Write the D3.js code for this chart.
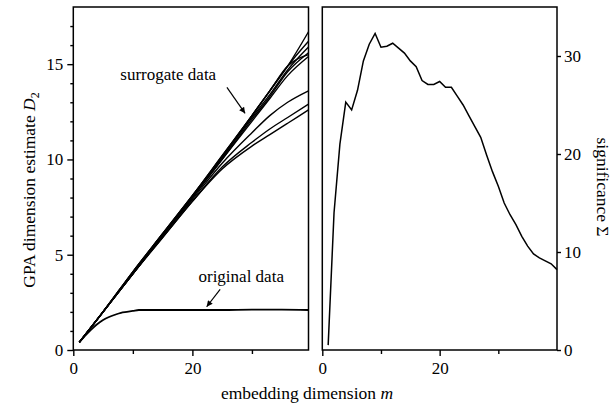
<!DOCTYPE html>
<html>
<head>
<meta charset="utf-8">
<script src="https://cdn.jsdelivr.net/npm/d3@7"></script>
<style>
  body { margin: 0; background: #fff; }
  #chart text { font-family: 'Liberation Serif', 'DejaVu Serif', serif !important; fill: #000; }
</style>
</head>
<body>
<svg id="chart" width="615" height="405"></svg>
<script>
// Left panel: GPA dimension estimate vs embedding dimension
const surM = [1, 5, 10, 15, 20, 25, 30, 33, 36, 39.5];
const sur1 = [0.4, 2.0, 4.1, 6.1, 8.1, 10.2, 12.3, 13.6, 14.9, 16.7];
const sur2 = [0.4, 2.0, 4.1, 6.1, 8.1, 10.2, 12.3, 13.6, 14.9, 16.2];
const sur3 = [0.4, 2.0, 4.1, 6.1, 8.1, 10.1, 12.2, 13.4, 14.7, 15.9];
const sur4 = [0.4, 2.0, 4.0, 6.0, 8.0, 10.0, 12.1, 13.3, 14.6, 15.6];
const sur5 = [0.4, 2.0, 4.0, 6.0, 8.0, 10.1, 12.3, 13.6, 14.9, 15.5];
const sur6 = [0.4, 2.0, 4.0, 6.0, 8.0, 10.0, 12.0, 13.2, 14.4, 15.4];
const sur7 = [0.4, 2.0, 4.0, 6.0, 7.9, 9.8, 11.4, 12.3, 13.0, 13.6];
const sur8 = [0.4, 2.0, 4.0, 5.9, 7.8, 9.6, 10.9, 11.6, 12.2, 12.9];
const sur9 = [0.4, 2.0, 4.0, 5.9, 7.8, 9.5, 10.7, 11.3, 11.9, 12.6];
const surrogates = [sur1, sur2, sur3, sur4, sur5, sur6, sur7, sur8, sur9];

const origM = [1, 2, 3, 4, 5, 6, 7, 8, 9, 10, 11, 12, 16, 20, 25, 30, 35, 39.5];
const origD = [0.4, 0.75, 1.07, 1.35, 1.57, 1.73, 1.85, 1.95, 2.0, 2.05, 2.1, 2.1, 2.1, 2.1, 2.1, 2.12, 2.12, 2.1];

// Right panel: significance vs embedding dimension
const sigM = [1, 2, 3, 4, 5, 6, 7, 8, 9, 10, 11, 12, 13, 14, 15, 16, 17, 18, 19, 20,
              21, 22, 23, 24, 25, 26, 27, 28, 29, 30, 31, 32, 33, 34, 35, 36, 37, 38, 39, 40];
const sigS = [0.5, 14, 21, 25.3, 24.5, 26.5, 29.5, 31.2, 32.3, 30.9, 31.0, 31.3, 30.8, 30.3, 29.5, 28.9, 27.5, 27.1, 27.1, 27.4,
              26.8, 26.8, 25.9, 25.0, 23.9, 22.8, 21.7, 19.9, 18.2, 16.7, 15.0, 13.8, 12.8, 11.6, 10.6, 9.8, 9.4, 9.1, 8.8, 8.2];

const leftMajor = [0, 5, 10, 15];
const leftMinor = [1, 2, 3, 4, 6, 7, 8, 9, 11, 12, 13, 14, 16, 17];
const rightMajor = [0, 10, 20, 30];
const xMajor = [0, 20];
const xMinor = [10, 30];

const FONT = "'Liberation Serif', 'DejaVu Serif', serif";

const svg = d3.select("#chart");

const plotTop = 7, plotBottom = 350;
const xL = d3.scaleLinear().domain([0, 39.5]).range([73.3, 308.5]);
const yL = d3.scaleLinear().domain([0, 18]).range([plotBottom, plotTop]);
const xR = d3.scaleLinear().domain([0, 40]).range([322.3, 557]);
const yR = d3.scaleLinear().domain([0, 35]).range([plotBottom, plotTop]);

svg.append("defs").append("marker")
  .attr("id", "arrow")
  .attr("viewBox", "0 0 10 10")
  .attr("refX", 10).attr("refY", 5)
  .attr("markerWidth", 7).attr("markerHeight", 6)
  .attr("markerUnits", "userSpaceOnUse")
  .attr("orient", "auto")
  .append("path")
  .attr("d", "M0,0 L10,5 L0,10 Z")
  .attr("fill", "#000");

function styleAxis(g) {
  g.attr("font-family", FONT).attr("font-size", 17);
  g.select(".domain").remove();
  g.selectAll("line").attr("stroke", "#000").attr("stroke-width", 1.4);
  g.selectAll("text").attr("font-size", 17).attr("font-family", FONT);
}

// frames
[[xL, yL], [xR, yR]].forEach(([x, y]) => {
  svg.append("rect")
    .attr("x", x.range()[0]).attr("y", plotTop)
    .attr("width", x.range()[1] - x.range()[0]).attr("height", plotBottom - plotTop)
    .attr("fill", "none").attr("stroke", "#000").attr("stroke-width", 1.5);
});

// left y axis
svg.append("g").attr("transform", `translate(${xL.range()[0]},0)`)
  .call(d3.axisLeft(yL).tickValues(leftMajor).tickSize(6).tickPadding(4))
  .call(styleAxis);
svg.append("g").attr("transform", `translate(${xL.range()[0]},0)`)
  .call(d3.axisLeft(yL).tickValues(leftMinor).tickSize(3).tickFormat(""))
  .call(styleAxis);

// right y axis
svg.append("g").attr("transform", `translate(${xR.range()[1]},0)`)
  .call(d3.axisRight(yR).tickValues(rightMajor).tickSize(4).tickPadding(3))
  .call(styleAxis);

// bottom axes
[xL, xR].forEach(x => {
  svg.append("g").attr("transform", `translate(0,${plotBottom})`)
    .call(d3.axisBottom(x).tickValues(xMajor).tickSize(6).tickPadding(6))
    .call(styleAxis);
  svg.append("g").attr("transform", `translate(0,${plotBottom})`)
    .call(d3.axisBottom(x).tickValues(xMinor).tickSize(4).tickFormat(""))
    .call(styleAxis);
});

// left panel lines
const lineL = d3.line()
  .x(d => xL(d[0]))
  .y(d => yL(d[1]))
  .curve(d3.curveMonotoneX);

surrogates.forEach(s => {
  svg.append("path")
    .datum(surM.map((m, i) => [m, s[i]]))
    .attr("d", lineL)
    .attr("fill", "none")
    .attr("stroke", "#000")
    .attr("stroke-width", 1.4);
});

svg.append("path")
  .datum(origM.map((m, i) => [m, origD[i]]))
  .attr("d", lineL)
  .attr("fill", "none")
  .attr("stroke", "#000")
  .attr("stroke-width", 1.8);

// right panel line
const lineR = d3.line()
  .x(d => xR(d[0]))
  .y(d => yR(d[1]));

svg.append("path")
  .datum(sigM.map((m, i) => [m, sigS[i]]))
  .attr("d", lineR)
  .attr("fill", "none")
  .attr("stroke", "#000")
  .attr("stroke-width", 1.5);

// annotations
svg.append("text")
  .attr("x", xL(15.95)).attr("y", yL(14.17))
  .attr("text-anchor", "middle").attr("font-size", 17).attr("font-family", FONT)
  .text("surrogate data");
svg.append("line")
  .attr("x1", xL(25.8)).attr("y1", yL(13.78))
  .attr("x2", xL(28.85)).attr("y2", yL(12.42))
  .attr("stroke", "#000").attr("stroke-width", 1.2)
  .attr("marker-end", "url(#arrow)");

svg.append("text")
  .attr("x", xL(28.2)).attr("y", yL(3.58))
  .attr("text-anchor", "middle").attr("font-size", 17).attr("font-family", FONT)
  .text("original data");
svg.append("line")
  .attr("x1", xL(24.66)).attr("y1", yL(3.18))
  .attr("x2", xL(22.4)).attr("y2", yL(2.27))
  .attr("stroke", "#000").attr("stroke-width", 1.2)
  .attr("marker-end", "url(#arrow)");

// axis titles
const yTitle = svg.append("text")
  .attr("transform", "translate(35,190) rotate(-90)")
  .attr("text-anchor", "middle").attr("font-size", 17.5).attr("font-family", FONT);
yTitle.append("tspan").text("GPA dimension estimate ");
yTitle.append("tspan").attr("font-style", "italic").text("D");
yTitle.append("tspan").attr("font-size", 12).attr("dy", 4).text("2");

svg.append("text")
  .attr("transform", "translate(597,187) rotate(90)")
  .attr("text-anchor", "middle").attr("font-size", 17.5).attr("font-family", FONT)
  .text("significance \u03A3");

const xTitle = svg.append("text")
  .attr("x", 307).attr("y", 399)
  .attr("text-anchor", "middle").attr("font-size", 17.5).attr("font-family", FONT);
xTitle.append("tspan").text("embedding dimension ");
xTitle.append("tspan").attr("font-style", "italic").text("m");
</script>
</body>
</html>
